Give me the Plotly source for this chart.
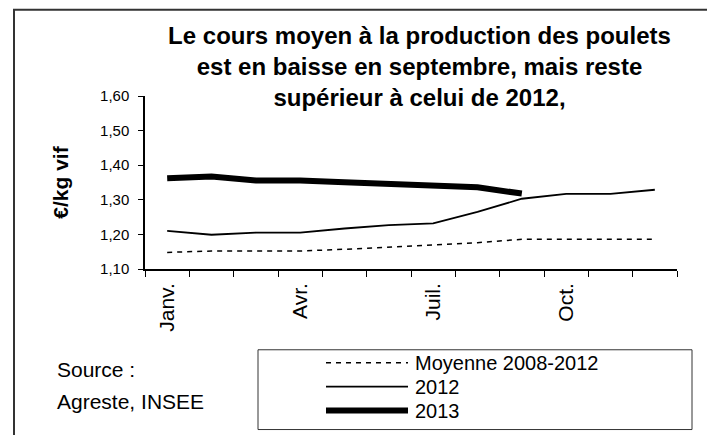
import plotly.graph_objects as go

months = ["Janv.", "Févr.", "Mars", "Avr.", "Mai", "Juin", "Juil.", "Août", "Sept.", "Oct.", "Nov.", "Déc."]
tick_labels = ["Janv.", "", "", "Avr.", "", "", "Juil.", "", "", "Oct.", "", ""]
moyenne_2008_2012 = [1.148, 1.152, 1.152, 1.152, 1.157, 1.164, 1.170, 1.176, 1.186, 1.186, 1.186, 1.186]
serie_2012 = [1.210, 1.199, 1.205, 1.205, 1.217, 1.227, 1.232, 1.265, 1.303, 1.317, 1.317, 1.329]
serie_2013 = [1.362, 1.367, 1.356, 1.356, 1.351, 1.346, 1.342, 1.336, 1.318]
series_names = ["Moyenne 2008-2012", "2012", "2013"]
y_ticks = [1.10, 1.20, 1.30, 1.40, 1.50, 1.60]

OFF = 8  # page body margin
W, H = 715 - OFF, 435 - OFF
L, R, T, B = 145 - OFF, 677 - OFF, 95.5 - OFF, 269 - OFF  # plot area in figure pixels

def px(x):
    return (x - OFF - L) / (R - L)

def py(y):
    return (B - (y - OFF)) / (B - T)

FONT = "Liberation Sans, Arial, sans-serif"
styles = [dict(color="black", width=1.5, dash="5px,5px"),
          dict(color="black", width=1.8),
          dict(color="black", width=6)]
data = [moyenne_2008_2012, serie_2012, serie_2013]

fig = go.Figure()
for name, vals, st in zip(series_names, data, styles):
    fig.add_trace(go.Scatter(x=months[:len(vals)], y=vals, mode="lines", name=name,
                             line=st, showlegend=False))

shapes = []
# outer chart border
shapes.append(dict(type="rect", xref="paper", yref="paper",
                   x0=px(14), x1=px(713), y0=py(450), y1=py(9),
                   line=dict(color="#333", width=2), layer="below"))
# legend box
shapes.append(dict(type="rect", xref="paper", yref="paper",
                   x0=px(258), x1=px(692), y0=py(430), y1=py(350),
                   line=dict(color="#333", width=1)))
annotations = []
legend_rows = [363, 387, 411]
for name, st, yy in zip(series_names, styles, legend_rows):
    shapes.append(dict(type="line", xref="paper", yref="paper",
                       x0=px(326), x1=px(408), y0=py(yy), y1=py(yy), line=st))
    annotations.append(dict(xref="paper", yref="paper", x=px(413), y=py(yy),
                            xanchor="left", yanchor="middle", text=name, showarrow=False,
                            font=dict(family=FONT, size=20, color="black")))
annotations.append(dict(xref="paper", yref="paper", x=px(55), y=py(370),
                        xanchor="left", yanchor="middle", text="Source :", showarrow=False,
                        font=dict(family=FONT, size=21, color="black")))
annotations.append(dict(xref="paper", yref="paper", x=px(55), y=py(402),
                        xanchor="left", yanchor="middle", text="Agreste, INSEE", showarrow=False,
                        font=dict(family=FONT, size=21, color="black")))

fig.update_layout(
    width=W, height=H,
    margin=dict(l=L, r=W - R, t=T, b=H - B, pad=0, autoexpand=False),
    paper_bgcolor="white", plot_bgcolor="white",
    separators=", ",
    title=dict(text="<b>Le cours moyen à la production des poulets<br>est en baisse en septembre, mais reste<br>supérieur à celui de 2012,</b>",
               x=(419.5 - OFF) / W, xanchor="center", xref="container",
               y=1 - 36 / H, yanchor="top", yref="container",
               font=dict(family=FONT, size=24, color="black")),
    xaxis=dict(type="category", categoryorder="array", categoryarray=months,
               tickvals=months, ticktext=tick_labels, tickson="boundaries",
               ticks="outside", ticklen=6, tickcolor="black", tickangle=-90,
               ticklabelstandoff=4,
               showline=True, linecolor="black", linewidth=1.5, showgrid=False,
               tickfont=dict(family=FONT, size=21, color="black"),
               range=[-0.5, 11.5]),
    yaxis=dict(range=[1.10, 1.60], tickvals=y_ticks, tickformat=".2f",
               ticks="outside", ticklen=5, tickcolor="black",
               ticklabelstandoff=6,
               showline=True, linecolor="black", linewidth=1.5, showgrid=False,
               zeroline=False,
               tickfont=dict(family=FONT, size=15, color="black"),
               title=dict(text="<b>€/kg vif</b>", standoff=26,
                          font=dict(family=FONT, size=21, color="black"))),
    shapes=shapes, annotations=annotations,
)

fig.write_html("out.html")
